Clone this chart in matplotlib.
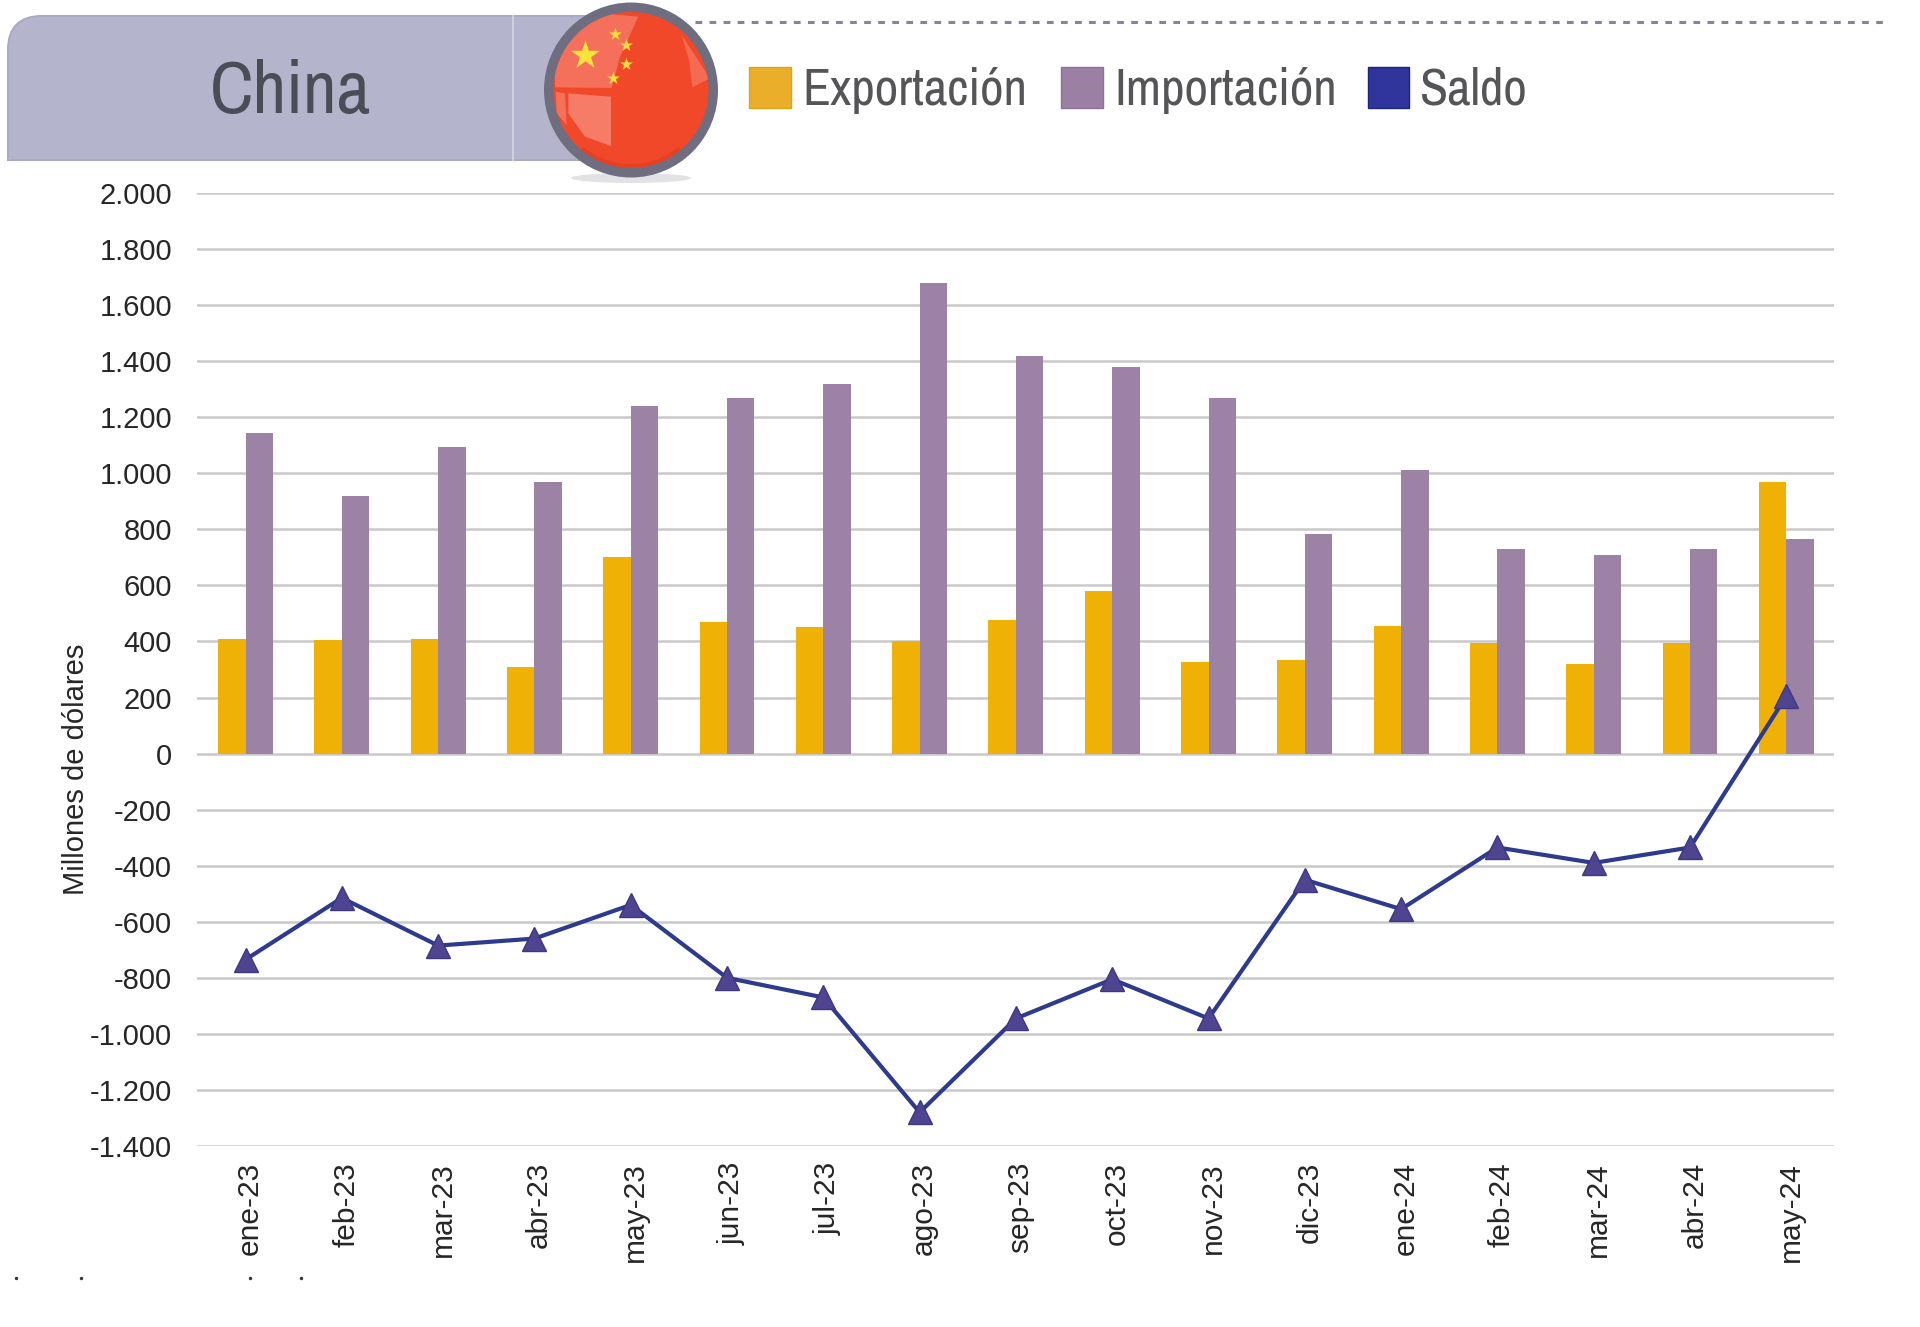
import matplotlib
matplotlib.use("Agg")
import matplotlib.pyplot as plt
from matplotlib.patches import Ellipse, PathPatch, Polygon, Rectangle, Wedge
from matplotlib.path import Path

months = ["ene-23", "feb-23", "mar-23", "abr-23", "may-23", "jun-23", "jul-23", "ago-23", "sep-23",
          "oct-23", "nov-23", "dic-23", "ene-24", "feb-24", "mar-24", "abr-24", "may-24"]
exports = [410, 405, 410, 310, 700, 470, 450, 400, 475, 580, 325, 335, 455, 395, 320, 395, 970]
imports = [1145, 920, 1095, 970, 1240, 1270, 1320, 1680, 1420, 1380, 1270, 785, 1010, 730, 710, 730, 765]
balance = [-735, -515, -685, -660, -540, -800, -870, -1280, -945, -805, -945, -450, -555, -335, -390, -335, 205]
y_ticks = [2000, 1800, 1600, 1400, 1200, 1000, 800, 600, 400, 200, 0,
           -200, -400, -600, -800, -1000, -1200, -1400]
y_labels = ["2.000", "1.800", "1.600", "1.400", "1.200", "1.000", "800", "600", "400", "200", "0",
            "-200", "-400", "-600", "-800", "-1.000", "-1.200", "-1.400"]

W, H = 1920, 1327
plt.rcParams["font.family"] = ["Liberation Sans", "DejaVu Sans"]
narrow = ["Archivo Narrow", "Liberation Sans", "DejaVu Sans"]

orange = "#efb106"
purple = "#9c82a4"
navy = "#2e3a8c"

fig = plt.figure(figsize=(W / 100, H / 100), dpi=100, facecolor="white")

# plot area, in pixels of the reference
left, right, top, bottom = 197, 1834, 193, 1146
ax = fig.add_axes([left / W, 1 - bottom / H, (right - left) / W, (bottom - top) / H])

x = list(range(len(months)))
bar_w = 0.285
ax.bar([i - bar_w / 2 for i in x], exports, bar_w, color=orange, zorder=3)
ax.bar([i + bar_w / 2 for i in x], imports, bar_w, color=purple, zorder=3)
ax.plot(x, balance, color=navy, lw=3, marker="^", ms=17, mfc="#4f4490", mec="#3d3785",
        mew=1, zorder=4, clip_on=False)

ax.set_xlim(-0.504, 16.495)
ax.set_ylim(-1400, 2000)
ax.set_yticks(y_ticks)
ax.set_yticklabels(y_labels, fontsize=21, color="#262626")
ax.set_xticks(x)
ax.set_xticklabels([])
ax.tick_params(axis="y", length=0, pad=18)
ax.tick_params(axis="x", length=0)
ax.grid(axis="y", color="#c9c9c9", lw=1.8, zorder=0)
ax.set_axisbelow(True)
for s in ax.spines.values():
    s.set_visible(False)
# month labels sit a little right of the groups, 15 px below the axis
for i, m in zip(x, months):
    ax.annotate(m, (i, 0), xycoords=("data", "axes fraction"), xytext=(3.2, -11.5),
                textcoords="offset points", rotation=90, fontsize=21.5, color="#262626",
                ha="center", va="top")
fig.text(76 / W, 1 - 769 / H, "Millones de dólares", rotation=90, fontsize=21,
         color="#262626", ha="center", va="center")

# header drawn in pixel coordinates over the whole figure
hd = fig.add_axes([0, 0, 1, 1], facecolor="none", zorder=5)
hd.set_xlim(0, W)
hd.set_ylim(H, 0)
hd.axis("off")

tab = Path([(8, 160), (8, 50), (8, 16), (42, 16), (600, 16), (600, 160), (8, 160)],
           [Path.MOVETO, Path.LINETO, Path.CURVE3, Path.CURVE3, Path.LINETO, Path.LINETO, Path.CLOSEPOLY])
hd.add_patch(PathPatch(tab, fc="#b4b5cd", ec="#a9aac4", lw=1.5))
hd.plot([513, 513], [16, 160], color="#d5d6e3", lw=1.2)
hd.text(290, 92, "China", family=narrow, fontsize=53, color="#4a4d55", ha="center", va="center")
hd.plot([695, 1883], [22, 22], color="#85859a", lw=2.2, dashes=(2.2, 2.4))

# flag badge
hd.add_patch(Ellipse((631, 178), 120, 10, fc="#e2e2e5", ec="none"))
hd.add_patch(Ellipse((631, 90), 174, 175, fc="#6f6d80", ec="none"))
disc = Ellipse((631, 90), 155, 156, fc="#f1482a", ec="none")
hd.add_patch(disc)


def zoom_pts(pts):
    return [(px / 3 + 535, py / 3) for px, py in pts]


glosses = [
    ([(60, 262), (230, 264), (255, 170), (310, 50), (200, 40), (60, 150)], "#f4705a"),
    ([(100, 280), (228, 290), (228, 438), (150, 410), (100, 340)], "#f77c68"),
    ([(62, 275), (90, 280), (95, 375), (65, 340)], "#f4705a"),
    ([(440, 105), (525, 235), (472, 262), (462, 180)], "#f46a52"),
]
for pts, col in glosses:
    g = Polygon(zoom_pts(pts), fc=col, ec="none")
    hd.add_patch(g)
    g.set_clip_path(disc)
hd.add_patch(Wedge((631, 90), 78, 50, 130, width=4, fc="#d93c20", ec="none", alpha=0.5))
hd.scatter([585], [55], marker="*", s=480, c="#f7e33c", linewidths=0, zorder=4)
hd.scatter([615, 626, 626, 613], [34, 45, 64, 78], marker="*", s=95, c="#f7dc3c", linewidths=0, zorder=4)

# legend
for x0, x1, col, ec in [(749, 791, "#ebae2b", "#e0a31c"), (1061, 1103, "#9b80a3", "#8d7396"),
                        (1368, 1409, "#2f359b", "#1d2180")]:
    hd.add_patch(Rectangle((x0, 67), x1 - x0, 41, fc=col, ec=ec, lw=1))
for x0, name in [(802, "Exportación"), (1114, "Importación"), (1420, "Saldo")]:
    hd.text(x0, 90, name, family=narrow, fontsize=37, color="#555558", ha="left", va="center")

# leftover specks under the chart
hd.scatter([16, 81, 250, 301], [1278] * 4, s=6, c="#333333", linewidths=0)

fig.savefig("out.png", dpi=100, facecolor="white")
